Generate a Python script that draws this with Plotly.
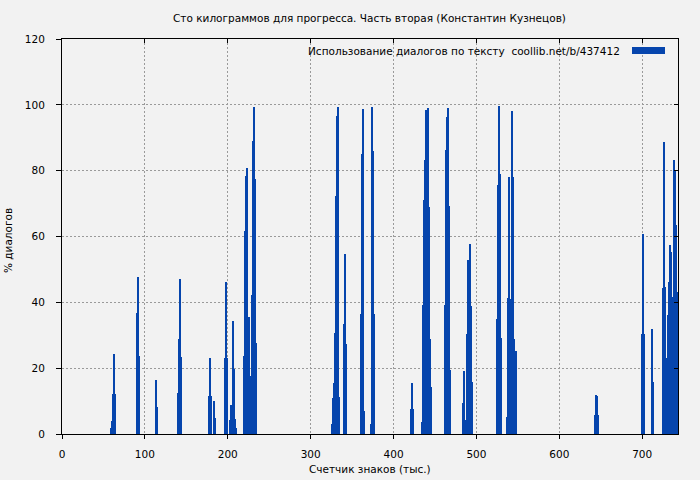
import plotly.graph_objects as go

# Data: position (thousands of characters) and % of dialogue
pos_k = [
    59.3, 60.5, 61.8, 63.0, 64.2,
    90.7, 91.9, 93.1,
    113.6, 114.8,
    140.2, 141.4, 142.6, 143.8,
    177.6, 178.8, 180.0, 183.6, 184.8,
    196.9, 198.1, 199.3,
    202.9, 204.1, 205.3, 206.5, 207.7, 208.9, 210.1,
    219.8, 221.0, 222.2, 223.4, 224.6, 225.8, 227.0, 228.2, 229.4, 230.6, 231.8, 233.0, 234.2,
    325.9, 327.1, 328.3, 329.5, 330.7, 331.9, 333.1, 334.3,
    340.4, 341.6, 342.8,
    360.9, 362.1, 363.3, 364.5,
    373.0, 374.2, 375.4, 376.6,
    421.2, 422.4, 423.6,
    434.5, 435.7, 436.9, 438.1, 439.3, 440.5, 441.7, 442.9, 444.1, 445.3,
    462.2, 463.4, 464.6, 465.8, 467.0, 468.2,
    483.9, 485.1, 486.3, 487.5, 488.7, 489.9, 491.1, 492.3, 493.5, 494.7,
    525.0, 526.2, 527.4, 528.6, 529.8,
    537.0, 538.2, 539.4, 540.6, 541.8, 543.0, 544.2, 545.4, 546.6, 547.8,
    643.2, 644.4, 645.6, 646.8,
    699.9, 701.1, 702.3,
    711.9, 713.1,
    725.2, 726.4, 727.6, 728.8, 730.0, 731.2, 732.4, 733.6, 734.8, 736.0, 737.2, 738.4, 739.6, 740.8, 742.0,
]
dialog_pct = [
    1.9, 4.1, 12.2, 24.4, 12.2,
    36.9, 47.8, 23.8,
    16.5, 8.3,
    12.6, 29.0, 47.2, 23.5,
    11.6, 23.2, 11.6, 10.1, 5.0,
    23.2, 46.3, 23.2,
    4.4, 8.9, 5.6, 34.4, 19.8, 4.7, 1.9,
    23.8, 61.8, 78.5, 80.9, 27.1, 35.6, 17.7, 9.8, 42.3, 89.1, 99.4, 77.6, 27.7,
    3.1, 11.0, 15.6, 30.8, 72.4, 96.7, 99.4, 11.3,
    33.5, 54.8, 27.4,
    36.6, 85.2, 98.8, 7.1,
    3.1, 99.4, 86.1, 36.6,
    7.7, 15.6, 7.7,
    3.7, 39.3, 71.2, 83.3, 98.5, 63.6, 99.1, 69.1, 29.0, 14.4,
    39.3, 86.4, 96.4, 99.1, 69.4, 19.5,
    9.5, 19.2, 4.4, 4.4, 30.5, 53.0, 43.5, 57.8, 39.0, 15.9,
    35.0, 75.7, 99.7, 79.1, 29.3,
    5.3, 41.4, 78.2, 41.1, 38.1, 98.2, 78.2, 29.0, 12.6, 25.3,
    5.9, 11.9, 11.6, 5.9,
    30.5, 60.9, 30.5,
    32.0, 15.9,
    44.5, 88.8, 44.8, 5.3, 23.2, 36.3, 46.3, 57.5, 55.4, 28.0, 41.7, 83.3, 80.3, 63.6, 43.2,
]
x_ticks = [0, 100, 200, 300, 400, 500, 600, 700]
y_ticks = [0, 20, 40, 60, 80, 100, 120]

title = "Сто килограммов для прогресса. Часть вторая (Константин Кузнецов)"
x_title = "Счетчик знаков (тыс.)"
y_title = "% диалогов"
legend_text = "Использование диалогов по тексту  coollib.net/b/437412"

BAR = "#0645ad"
BG = "#f2f2f2"
FONT = "DejaVu Sans"
FS = 10.5

W, H = 700, 480
L, R, T, B = 62, 22, 39, 46
pw, ph = W - L - R, H - T - B

def px_x(p):
    return (p - L) / pw

def px_y(p):
    return (H - B - p) / ph

fig = go.Figure()
fig.add_trace(go.Bar(
    x=pos_k, y=dialog_pct, width=[1.22] * len(pos_k),
    marker=dict(color=BAR, line=dict(width=0)),
    showlegend=False, hoverinfo="x+y",
))

grid = dict(showgrid=True, gridcolor="#9a9a9a", griddash="2px,2px", gridwidth=1)

fig.update_layout(
    width=W, height=H,
    margin=dict(l=L, r=R, t=T, b=B, pad=0, autoexpand=False),
    paper_bgcolor=BG, plot_bgcolor=BG,
    font=dict(family=FONT, size=FS, color="#000000"),
    bargap=0,
    showlegend=False,
    xaxis=dict(range=[0, 743.2], tickvals=x_ticks, ticks="outside", ticklen=4,
               tickcolor="#000", showline=True, linecolor="#000", linewidth=1,
               mirror=True, zeroline=False, ticklabelstandoff=6, **grid),
    yaxis=dict(range=[0, 120], tickvals=y_ticks, ticks="outside", ticklen=5,
               tickcolor="#000", showline=True, linecolor="#000", linewidth=1,
               mirror=True, zeroline=False, ticklabelstandoff=9, **grid),
    xaxis2=dict(range=[0, 743.2], tickvals=x_ticks, ticks="inside", ticklen=4,
                tickcolor="#000", overlaying="x", side="top", showticklabels=False,
                showgrid=False, zeroline=False),
    yaxis2=dict(range=[0, 120], tickvals=y_ticks, ticks="inside", ticklen=4,
                tickcolor="#000", overlaying="y", side="right", showticklabels=False,
                showgrid=False, zeroline=False),
)
# dummy invisible trace to activate the mirror axes
fig.add_trace(go.Scatter(x=[None], y=[None], xaxis="x2", yaxis="y2",
                         showlegend=False, hoverinfo="skip"))

# top band (key area) hides the vertical grid
fig.add_shape(type="rect", xref="paper", yref="paper",
              x0=0, x1=1, y0=px_y(56), y1=1, fillcolor=BG, line=dict(width=0),
              layer="between")

# key: text + sample
fig.add_annotation(text=legend_text, xref="paper", yref="paper",
                   x=px_x(622), y=px_y(50.5), xanchor="right", yanchor="middle",
                   showarrow=False, font=dict(size=FS, family=FONT))
fig.add_shape(type="rect", xref="paper", yref="paper",
              x0=px_x(632), x1=px_x(665), y0=px_y(54), y1=px_y(47),
              fillcolor=BAR, line=dict(width=0))

# titles
fig.add_annotation(text=title, xref="paper", yref="paper",
                   x=px_x(369), y=px_y(18), xanchor="center", yanchor="middle",
                   showarrow=False, font=dict(size=FS, family=FONT))
fig.add_annotation(text=x_title, xref="paper", yref="paper",
                   x=px_x(370), y=px_y(469), xanchor="center", yanchor="middle",
                   showarrow=False, font=dict(size=FS, family=FONT))
fig.add_annotation(text=y_title, xref="paper", yref="paper",
                   x=px_x(8), y=px_y(241), xanchor="center", yanchor="middle",
                   textangle=-90, showarrow=False, font=dict(size=FS, family=FONT))

fig.write_html("out.html", config={"displayModeBar": False},
               post_script="document.body.style.margin='0';document.body.style.padding='0';")
